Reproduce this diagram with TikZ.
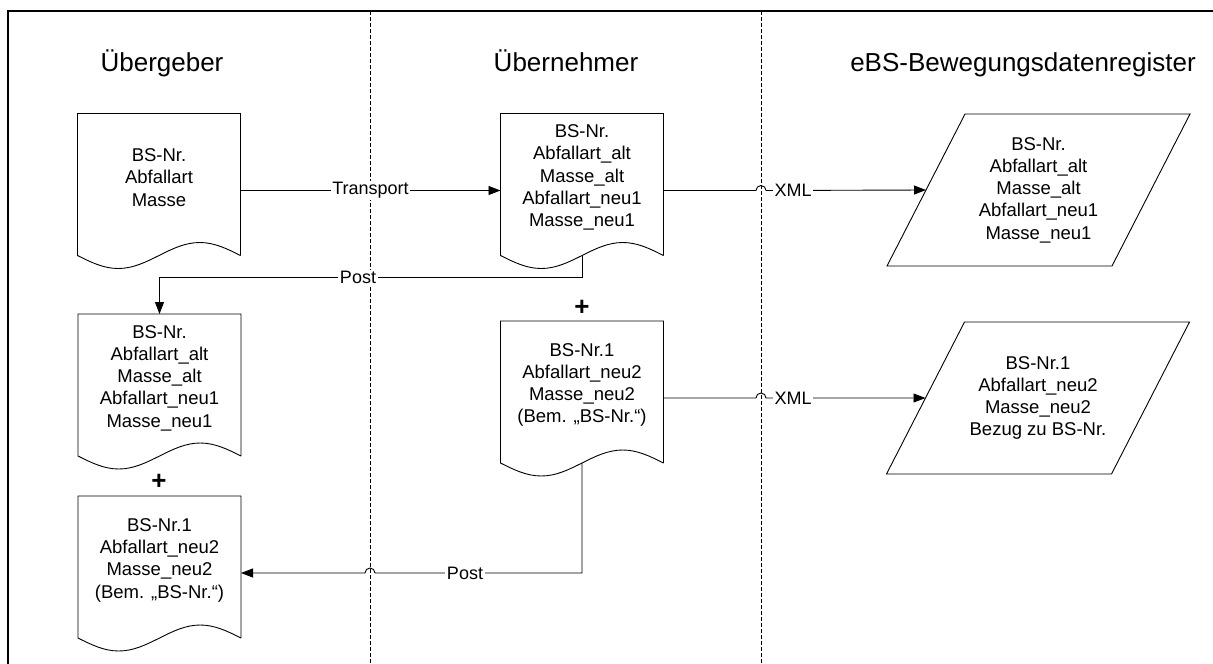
\documentclass[tikz,border=0pt]{standalone}
\usepackage{fontspec}
\setmainfont{Liberation Sans}
\usetikzlibrary{arrows.meta,calc}
\tikzset{
  line/.style={draw=black, line width=0.9pt},
  conn/.style={line, -{Triangle[length=12pt,width=9pt]}},
  docbody/.style={minimum width=163pt, minimum height=142pt, inner sep=0pt, outer sep=0pt},
  doctext/.style={align=center, font=\fontsize{18.5}{22.3}\selectfont, inner sep=0pt},
  paranode/.style={minimum width=303pt, minimum height=152pt, inner sep=0pt, outer sep=0pt, align=center, font=\fontsize{18.5}{22.3}\selectfont},
  lbl/.style={fill=white, inner xsep=1.5pt, inner ysep=1pt, font=\fontsize{18}{21}\selectfont},
  header/.style={font=\fontsize{26}{30}\selectfont, anchor=base, inner sep=0pt},
  plussign/.style={font=\bfseries\fontsize{26}{28}\selectfont, inner sep=0pt},
  lane/.style={line width=0.8pt, dash pattern=on 4pt off 2pt},
  frame/.style={line width=1.6pt},
}
\newcommand\docoutline[1]{%
  \draw[line] (#1.south east) -- (#1.north east) -- (#1.north west) -- (#1.south west)
    sin ($(#1.south west)!0.25!(#1.south east)+(0,13)$)
    cos ($(#1.south west)!0.5!(#1.south east)$)
    sin ($(#1.south west)!0.75!(#1.south east)+(0,-13)$)
    cos (#1.south east);}
\newcommand\paraoutline[1]{%
  \draw[line] ([xshift=78pt]#1.north west) -- (#1.north east) -- ([xshift=-78pt]#1.south east) -- (#1.south west) -- cycle;}
\begin{document}
\begin{tikzpicture}[x=1pt,y=-1pt]
\useasboundingbox (0,0) rectangle (1213,664);
\clip (0,0) rectangle (1213,664);
% frame and lanes
\coordinate (F1) at (8,690);
\coordinate (F2) at (8,11);
\coordinate (F3) at (1240,11);
\draw[frame] (F1) -- (F2) -- (F3);
\coordinate (L1) at (370,11);
\coordinate (L1b) at (370,664);
\coordinate (L2) at (761,11);
\coordinate (L2b) at (761,664);
\draw[lane] (L1) -- (L1b);
\draw[lane] (L2) -- (L2b);
% headers
\node[header] (h1) at (162,71) {Übergeber};
\node[header] (h2) at (566,71) {Übernehmer};
\node[header] (h3) at (1023,71) {eBS-Bewegungsdatenregister};
% document bodies
\node[docbody] (d1) at (159,184.5) {};
\node[docbody] (d2) at (582,184.5) {};
\node[docbody] (d3) at (159.5,385) {};
\node[docbody] (d4) at (582,392) {};
\node[docbody] (d5) at (159.5,567) {};
\docoutline{d1}\docoutline{d2}\docoutline{d3}\docoutline{d4}\docoutline{d5}
\node[doctext] (d1t) at ($(d1.center)+(0,-7)$) {BS-Nr.\\Abfallart\\Masse};
\node[doctext] (d2t) at ($(d2.center)+(0,-7)$) {BS-Nr.\\Abfallart\_alt\\Masse\_alt\\Abfallart\_neu1\\Masse\_neu1};
\node[doctext] (d3t) at ($(d3.center)+(0,-7)$) {BS-Nr.\\Abfallart\_alt\\Masse\_alt\\Abfallart\_neu1\\Masse\_neu1};
\node[doctext] (d4t) at ($(d4.center)+(0,-7)$) {BS-Nr.1\\Abfallart\_neu2\\Masse\_neu2\\(Bem. „BS-Nr.“)};
\node[doctext] (d5t) at ($(d5.center)+(0,-7)$) {BS-Nr.1\\Abfallart\_neu2\\Masse\_neu2\\(Bem. „BS-Nr.“)};
% parallelograms
\node[paranode] (p1) at (1038.5,190) {BS-Nr.\\Abfallart\_alt\\Masse\_alt\\Abfallart\_neu1\\Masse\_neu1};
\node[paranode] (p2) at (1038,398) {BS-Nr.1\\Abfallart\_neu2\\Masse\_neu2\\Bezug zu BS-Nr.};
\paraoutline{p1}\paraoutline{p2}
\coordinate (p1w) at ($(p1.south west)!0.5!([xshift=78pt]p1.north west)$);
\coordinate (p2w) at ($(p2.south west)!0.5!([xshift=78pt]p2.north west)$);
% plus signs
\node[plussign] (pl1) at (582,308) {+};
\node[plussign] (pl2) at (159,482) {+};
% connectors
\coordinate (a1) at ([yshift=-6pt]d1.east);
\coordinate (a2) at ([yshift=-6pt]d2.west);
\draw[conn] (a1) -- (a2);
\node[lbl] (lt) at ($(a1)!0.5!(a2)$) {Transport};
\coordinate (b1) at ([yshift=-6pt]d2.east);
\draw[conn] (b1) -- ($(b1 -| L2)+(-5,0)$) arc[start angle=180,end angle=0,radius=5pt] -- (p1w);
\node[lbl] (lx1) at (793,190) {XML};
\coordinate (c1) at ([yshift=-6pt]d4.east);
\draw[conn] (c1) -- ($(c1 -| L2)+(-5,0)$) arc[start angle=180,end angle=0,radius=5pt] -- (p2w);
\node[lbl] (lx2) at (793,398) {XML};
\draw[conn] (d2.south) -- ++(0,22) -| (d3.north);
\node[lbl] (lp1) at (358,277.5) {Post};
\coordinate (e1) at ([yshift=-6pt]d5.east);
\draw[conn] (d4.south) -- ++(0,110) -- ($(e1 -| L1)+(5,0)$) arc[start angle=0,end angle=180,radius=5pt] -- (e1);
\node[lbl] (lp2) at (465,573) {Post};
\end{tikzpicture}
\end{document}
